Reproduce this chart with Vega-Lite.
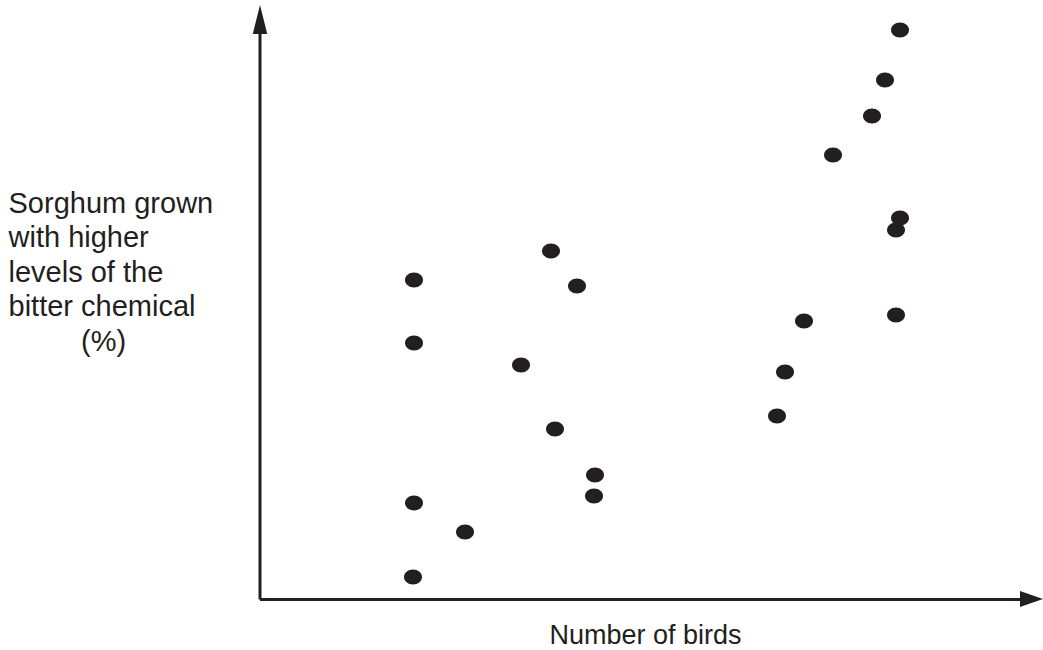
{
  "$schema": "https://vega.github.io/schema/vega-lite/v6.json",
  "autosize": "none",
  "width": 783,
  "height": 600,
  "padding": {"left": 260, "top": 0, "right": 0, "bottom": 50},
  "background": "white",
  "config": {"view": {"stroke": null}},
  "datasets": {
    "points": [
      {"birds": 154, "pct": 320},
      {"birds": 154, "pct": 257},
      {"birds": 154, "pct": 97},
      {"birds": 153, "pct": 23},
      {"birds": 205, "pct": 68},
      {"birds": 291, "pct": 349},
      {"birds": 317, "pct": 314},
      {"birds": 261, "pct": 235},
      {"birds": 295, "pct": 171},
      {"birds": 335, "pct": 125},
      {"birds": 334, "pct": 104},
      {"birds": 517, "pct": 184},
      {"birds": 525, "pct": 228},
      {"birds": 544, "pct": 279},
      {"birds": 573, "pct": 445},
      {"birds": 612, "pct": 484},
      {"birds": 625, "pct": 520},
      {"birds": 640, "pct": 570},
      {"birds": 640, "pct": 382},
      {"birds": 636, "pct": 370},
      {"birds": 636, "pct": 285}
    ],
    "axes": [
      {"axis": "x", "x1": 0, "y1": 0.5, "x2": 772, "y2": 0.5},
      {"axis": "y", "x1": 0, "y1": 0.5, "x2": 0, "y2": 572}
    ],
    "uparrow": [{"x": 0, "y": 580.5}],
    "rightarrow": [{"x": 771.5, "y": 1}]
  },
  "layer": [
    {
      "data": {"name": "points"},
      "mark": {
        "type": "point",
        "filled": true,
        "opacity": 1,
        "shape": "M -1 0 A 1 0.83 0 1 0 1 0 A 1 0.83 0 1 0 -1 0 Z",
        "size": 324,
        "color": "#231f20"
      },
      "encoding": {
        "x": {
          "field": "birds",
          "type": "quantitative",
          "scale": {"domain": [0, 783], "nice": false, "zero": false},
          "axis": {
            "domain": false, "ticks": false, "labels": false, "grid": false,
            "title": "Number of birds",
            "titleFont": "Liberation Sans",
            "titleFontSize": 27,
            "titleFontWeight": "normal",
            "titleColor": "#231f20",
            "titleAlign": "center",
            "titleBaseline": "alphabetic",
            "titleX": 385,
            "titleY": 43
          }
        },
        "y": {
          "field": "pct",
          "type": "quantitative",
          "scale": {"domain": [0, 600], "nice": false, "zero": false},
          "axis": {
            "domain": false, "ticks": false, "labels": false, "grid": false,
            "title": ["Sorghum grown", "with higher", "levels of the", "bitter chemical", "\u200b\u00a0\u00a0\u00a0\u00a0\u00a0\u00a0\u00a0\u00a0\u00a0(%)"],
            "titleFont": "Liberation Sans",
            "titleFontSize": 29,
            "titleFontWeight": "normal",
            "titleColor": "#231f20",
            "titleAngle": 0,
            "titleAlign": "left",
            "titleBaseline": "alphabetic",
            "titleLineHeight": 34.5,
            "titleX": -252,
            "titleY": 212
          }
        }
      }
    },
    {
      "data": {"name": "axes"},
      "mark": {"type": "rule", "color": "#231f20", "strokeWidth": 3},
      "encoding": {
        "x": {"field": "x1", "type": "quantitative"},
        "y": {"field": "y1", "type": "quantitative"},
        "x2": {"field": "x2"},
        "y2": {"field": "y2"}
      }
    },
    {
      "data": {"name": "uparrow"},
      "mark": {
        "type": "point", "filled": true, "opacity": 1,
        "shape": "M 0 -1 L 0.5 1 L -0.5 1 Z",
        "size": 841, "color": "#231f20"
      },
      "encoding": {
        "x": {"field": "x", "type": "quantitative"},
        "y": {"field": "y", "type": "quantitative"}
      }
    },
    {
      "data": {"name": "rightarrow"},
      "mark": {
        "type": "point", "filled": true, "opacity": 1,
        "shape": "M 1 0 L -1 0.7 L -1 -0.7 Z",
        "size": 529, "color": "#231f20"
      },
      "encoding": {
        "x": {"field": "x", "type": "quantitative"},
        "y": {"field": "y", "type": "quantitative"}
      }
    }
  ]
}
